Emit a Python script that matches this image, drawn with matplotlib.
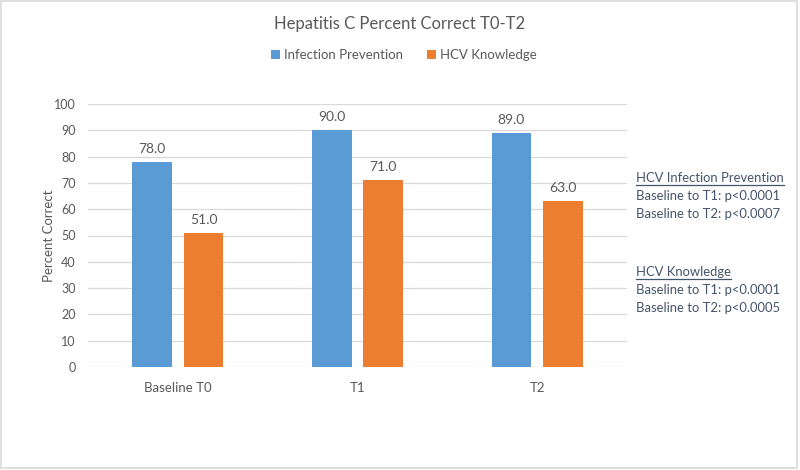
"""Hepatitis C percent correct, grouped bar chart."""
import matplotlib
matplotlib.use("Agg")
import matplotlib.pyplot as plt
import numpy as np
from matplotlib.lines import Line2D
from matplotlib.patches import Rectangle

plt.rcParams['font.family'] = ['Lato', 'DejaVu Sans']

# data
categories = ['Baseline T0', 'T1', 'T2']
prevention = [78.0, 90.0, 89.0]
knowledge = [51.0, 71.0, 63.0]
series_names = ['Infection Prevention', 'HCV Knowledge']

blue = '#5B9BD5'
orange = '#ED7D31'
gray_text = '#595959'
note_color = '#44546A'

fig = plt.figure(figsize=(8, 4.7), dpi=100)
W, H = 800, 470
ax = fig.add_axes([88 / W, 1 - 367 / H, (627 - 88) / W, (367 - 104) / H])

x = np.arange(len(categories))
width = 0.222
off = 0.143

b1 = ax.bar(x - off, prevention, width, color=blue, label=series_names[0], zorder=3)
b2 = ax.bar(x + off, knowledge, width, color=orange, label=series_names[1], zorder=3)

for bars in (b1, b2):
    for bar in bars:
        h = bar.get_height()
        ax.annotate(f'{h:.1f}', xy=(bar.get_x() + bar.get_width() / 2, h),
                    xytext=(0, 5), textcoords='offset points',
                    ha='center', va='bottom', fontsize=10, color=gray_text)

ax.set_xlim(-0.5, 2.5)
ax.set_ylim(0, 100)
ax.set_yticks(np.arange(0, 101, 10))
ax.set_xticks(x)
ax.set_xticklabels(categories)
ax.tick_params(axis='both', length=0, labelsize=9, colors=gray_text)
ax.tick_params(axis='x', pad=11, labelsize=9.5)
ax.tick_params(axis='y', pad=9)
ax.grid(axis='y', color='#D9D9D9', linewidth=0.9, zorder=0)
for s in ax.spines.values():
    s.set_visible(False)
ax.set_ylabel('Percent Correct', fontsize=9.5, color=gray_text, labelpad=-1)

fig.text(0.5, 1 - 24 / H, 'Hepatitis C Percent Correct T0-T2', ha='center', va='center',
         fontsize=12, color=gray_text)

leg = fig.legend(loc='center', bbox_to_anchor=(0.505, 1 - 55 / H), ncol=2, frameon=False,
                 fontsize=9.5, handlelength=0.7, handleheight=0.7, handletextpad=0.3,
                 columnspacing=1.8, labelcolor=gray_text)

# p-value notes on the right
notes = [
    (178, 'HCV Infection Prevention', True),
    (196, 'Baseline to T1: p<0.0001', False),
    (214, 'Baseline to T2: p<0.0007', False),
    (272, 'HCV Knowledge', True),
    (290, 'Baseline to T1: p<0.0001', False),
    (308, 'Baseline to T2: p<0.0005', False),
]
texts = []
for ypix, s, ul in notes:
    t = fig.text(636 / W, 1 - ypix / H, s, ha='left', va='center', fontsize=9.4, color=note_color)
    texts.append((t, ul))

fig.canvas.draw()
renderer = fig.canvas.get_renderer()
for t, ul in texts:
    if ul:
        bb = t.get_window_extent(renderer)
        yl = (bb.y0 - 1) / H
        fig.add_artist(Line2D([bb.x0 / W, bb.x1 / W], [yl, yl], color=note_color, linewidth=0.9))

# light border around the chart area
fig.add_artist(Rectangle((1 / W, 2 / H), (W - 4) / W, (H - 3) / H, fill=False,
                         edgecolor='#D9D9D9', linewidth=1.2, transform=fig.transFigure))

fig.savefig('out.png', dpi=100)
